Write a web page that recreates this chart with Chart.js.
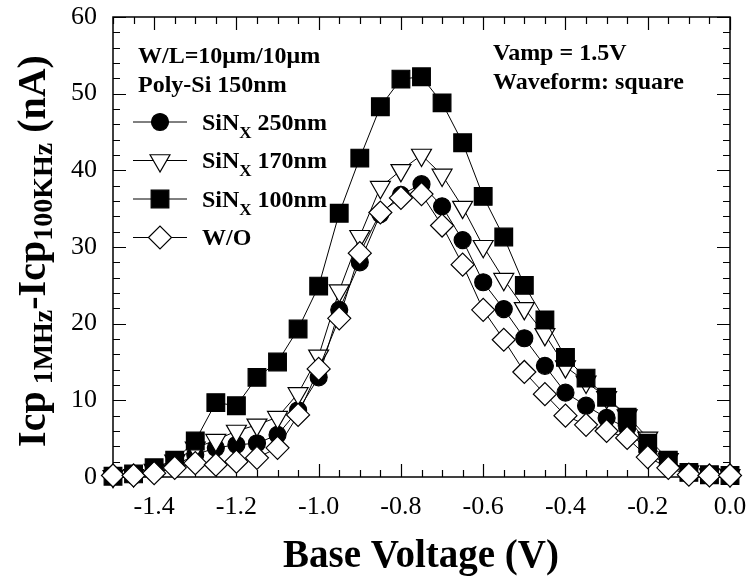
<!DOCTYPE html>
<html>
<head>
<meta charset="utf-8">
<script src="https://cdn.jsdelivr.net/npm/chart.js@4.4.1/dist/chart.umd.min.js"></script>
<style>
  html, body { margin: 0; padding: 0; background: #fff; }
  #wrap { width: 748px; height: 578px; position: relative; }
</style>
</head>
<body>
<div id="wrap"><canvas id="chart"></canvas></div>
<script>
// base voltage (V), one point every 0.05 V
const baseVoltage = [-1.5, -1.45, -1.4, -1.35, -1.3, -1.25, -1.2, -1.15, -1.1, -1.05,
                     -1.0, -0.95, -0.9, -0.85, -0.8, -0.75, -0.7, -0.65, -0.6, -0.55,
                     -0.5, -0.45, -0.4, -0.35, -0.3, -0.25, -0.2, -0.15, -0.1, -0.05, 0.0];

// Icp(1MHz) - Icp(100KHz) in nA
const sin250 = [0.1, 0.2, 0.6, 1.5, 2.9, 3.8, 4.2, 4.4, 5.5, 8.7,
                13.0, 21.8, 28.0, 34.3, 36.8, 38.2, 35.3, 30.9, 25.4, 21.9,
                18.1, 14.5, 11.0, 9.3, 7.7, 6.4, 3.2, 1.5, 0.4, 0.2, 0.1];
const sin170 = [0.1, 0.2, 0.9, 2.1, 3.8, 4.8, 6.0, 6.8, 7.8, 10.9,
                15.8, 24.3, 31.4, 37.8, 40.0, 42.0, 39.4, 35.2, 30.1, 25.8,
                22.0, 18.6, 14.4, 12.4, 10.4, 8.0, 5.1, 2.3, 0.7, 0.3, 0.2];
const sin100 = [0.1, 0.4, 1.2, 2.2, 4.7, 9.7, 9.3, 13.0, 15.0, 19.3,
                24.9, 34.4, 41.6, 48.3, 51.9, 52.2, 48.8, 43.6, 36.6, 31.3,
                25.0, 20.5, 15.6, 12.9, 10.4, 7.8, 4.4, 2.2, 0.6, 0.3, 0.2];
const withoutSiN = [0.2, 0.2, 0.5, 1.2, 1.8, 1.6, 2.0, 2.5, 3.8, 8.1,
                    14.1, 20.7, 29.2, 34.5, 36.4, 36.9, 32.8, 27.7, 21.8, 17.9,
                    13.7, 10.8, 8.0, 6.8, 6.0, 5.1, 2.6, 1.2, 0.3, 0.2, 0.2];

// legend text, "_{..}" marks a subscript
const seriesLabels = ['SiN_{X} 250nm', 'SiN_{X} 170nm', 'SiN_{X} 100nm', 'W/O'];
const xTicks = [-1.4, -1.2, -1.0, -0.8, -0.6, -0.4, -0.2, 0.0];
const yTicks = [0, 10, 20, 30, 40, 50, 60];
const infoLeft = ['W/L=10\u03bcm/10\u03bcm', 'Poly-Si 150nm'];
const infoRight = ['Vamp = 1.5V', 'Waveform: square'];
const xTitle = 'Base Voltage (V)';
const yTitle = 'Icp_{ 1MHz}-Icp_{100KHz} (nA)';

const SERIF = '"Liberation Serif", "Times New Roman", serif';

// split "abc_{d}e" into pieces
function splitRich(str) {
    const parts = [];
    const re = /_\{([^}]*)\}/g;
    let last = 0, m;
    while ((m = re.exec(str)) !== null) {
        if (m.index > last) parts.push({ t: str.slice(last, m.index), sub: false });
        parts.push({ t: m[1], sub: true });
        last = re.lastIndex;
    }
    if (last < str.length) parts.push({ t: str.slice(last), sub: false });
    return parts;
}

function richWidth(ctx, str, size, subSize) {
    let w = 0;
    splitRich(str).forEach(p => {
        ctx.font = 'bold ' + (p.sub ? subSize : size) + 'px ' + SERIF;
        w += ctx.measureText(p.t).width;
    });
    return w;
}

function drawRich(ctx, str, x, y, size, subSize, subShift) {
    ctx.textAlign = 'left';
    ctx.textBaseline = 'alphabetic';
    splitRich(str).forEach(p => {
        ctx.font = 'bold ' + (p.sub ? subSize : size) + 'px ' + SERIF;
        ctx.fillText(p.t, x, p.sub ? y + subShift : y);
        x += ctx.measureText(p.t).width;
    });
}

function makeSeries(label, values, style) {
    return Object.assign({
        label: label.replace(/_\{([^}]*)\}/g, '$1'),
        data: baseVoltage.map((v, i) => ({ x: v, y: values[i] })),
        borderColor: '#000',
        borderWidth: 1,
        pointBorderColor: '#000',
        pointBorderWidth: 1.2,
        tension: 0,
        clip: false
    }, style);
}

// frame with inward ticks on all four sides
const framePlugin = {
    id: 'frame',
    beforeDatasetsDraw(chart) {
        const ctx = chart.ctx;
        const a = chart.chartArea;
        const xs = chart.scales.x, ys = chart.scales.y;
        ctx.save();
        ctx.strokeStyle = '#000';
        ctx.lineWidth = 1.5;
        ctx.strokeRect(a.left, a.top, a.right - a.left, a.bottom - a.top);
        ctx.lineWidth = 1.2;
        ctx.beginPath();
        for (let k = 0; k <= 30; k++) {
            const v = -1.5 + k * 0.05;
            const px = Math.round(xs.getPixelForValue(v)) + 0.5;
            const len = (k % 4 === 2) ? 13 : 7;
            ctx.moveTo(px, a.bottom); ctx.lineTo(px, a.bottom - len);
            ctx.moveTo(px, a.top); ctx.lineTo(px, a.top + len);
        }
        for (let k = 0; k <= 30; k++) {
            const v = k * 2;
            const py = Math.round(ys.getPixelForValue(v)) + 0.5;
            const len = (k % 5 === 0) ? 13 : 7;
            ctx.moveTo(a.left, py); ctx.lineTo(a.left + len, py);
            ctx.moveTo(a.right, py); ctx.lineTo(a.right - len, py);
        }
        ctx.stroke();
        ctx.restore();
    },
    afterDraw(chart) {
        const ctx = chart.ctx;
        ctx.save();
        ctx.fillStyle = '#000';

        // axis titles
        const xw = richWidth(ctx, xTitle, 39, 26);
        drawRich(ctx, xTitle, 421 - xw / 2, 567, 39, 26, 0);

        ctx.save();
        ctx.translate(45, 251);
        ctx.rotate(-Math.PI / 2);
        const yw = richWidth(ctx, yTitle, 40, 28);
        drawRich(ctx, yTitle, -yw / 2, 0, 40, 28, 7);
        ctx.restore();

        // info text
        infoLeft.forEach((t, i) => drawRich(ctx, t, 138, 63 + i * 28.5, 24, 17, 0));
        infoRight.forEach((t, i) => drawRich(ctx, t, 493, 60 + i * 29, 24, 17, 0));

        // legend: line through marker, label to the right
        chart.data.datasets.forEach((ds, i) => {
            const y = 122 + i * 38.5;
            ctx.strokeStyle = '#000';
            ctx.lineWidth = 1;
            ctx.beginPath();
            ctx.moveTo(133, y); ctx.lineTo(187, y);
            ctx.stroke();
            ctx.fillStyle = ds.pointBackgroundColor;
            ctx.strokeStyle = '#000';
            ctx.lineWidth = ds.pointBorderWidth;
            Chart.helpers.drawPoint(ctx, {
                pointStyle: ds.pointStyle,
                rotation: ds.pointRotation || 0,
                radius: ds.pointRadius,
                borderWidth: ds.pointBorderWidth
            }, 160, y);
            ctx.fillStyle = '#000';
            drawRich(ctx, seriesLabels[i], 202, y + 7.5, 24, 17, 8);
        });
        ctx.restore();
    }
};

const ctx = document.getElementById('chart').getContext('2d');
const chart = new Chart(ctx, {
    type: 'line',
    data: {
        datasets: [
            makeSeries(seriesLabels[0], sin250, {
                pointStyle: 'circle', pointRadius: 8.5, pointBackgroundColor: '#000', order: 3
            }),
            makeSeries(seriesLabels[1], sin170, {
                pointStyle: 'triangle', pointRotation: 180, pointRadius: 11.5, pointBackgroundColor: '#fff', order: 2
            }),
            makeSeries(seriesLabels[2], sin100, {
                pointStyle: 'rect', pointRadius: 12.5, pointBackgroundColor: '#000', order: 1
            }),
            makeSeries(seriesLabels[3], withoutSiN, {
                pointStyle: 'rectRot', pointRadius: 11.5, pointBackgroundColor: '#fff', order: 0
            })
        ]
    },
    options: {
        responsive: true,
        maintainAspectRatio: false,
        animation: false,
        events: [],
        layout: { padding: { top: 17, right: 18, left: 0, bottom: 0 } },
        plugins: {
            legend: { display: false },
            tooltip: { enabled: false }
        },
        scales: {
            x: {
                type: 'linear',
                min: -1.5,
                max: 0,
                afterBuildTicks: s => { s.ticks = xTicks.map(v => ({ value: v })); },
                afterFit: s => { s.height = 101; s.paddingLeft = 0; s.paddingRight = 0; },
                grid: { display: false, drawTicks: false },
                border: { display: false },
                ticks: {
                    color: '#000',
                    padding: 15,
                    maxRotation: 0,
                    autoSkip: false,
                    font: { family: SERIF, size: 26 },
                    callback: v => v.toFixed(1)
                }
            },
            y: {
                min: 0,
                max: 60,
                afterBuildTicks: s => { s.ticks = yTicks.map(v => ({ value: v })); },
                afterFit: s => { s.width = 113; s.paddingTop = 0; s.paddingBottom = 0; },
                grid: { display: false, drawTicks: false },
                border: { display: false },
                ticks: {
                    color: '#000',
                    padding: 16,
                    autoSkip: false,
                    font: { family: SERIF, size: 26 },
                    callback: v => String(v)
                }
            }
        }
    },
    plugins: [framePlugin]
});
</script>
</body>
</html>
